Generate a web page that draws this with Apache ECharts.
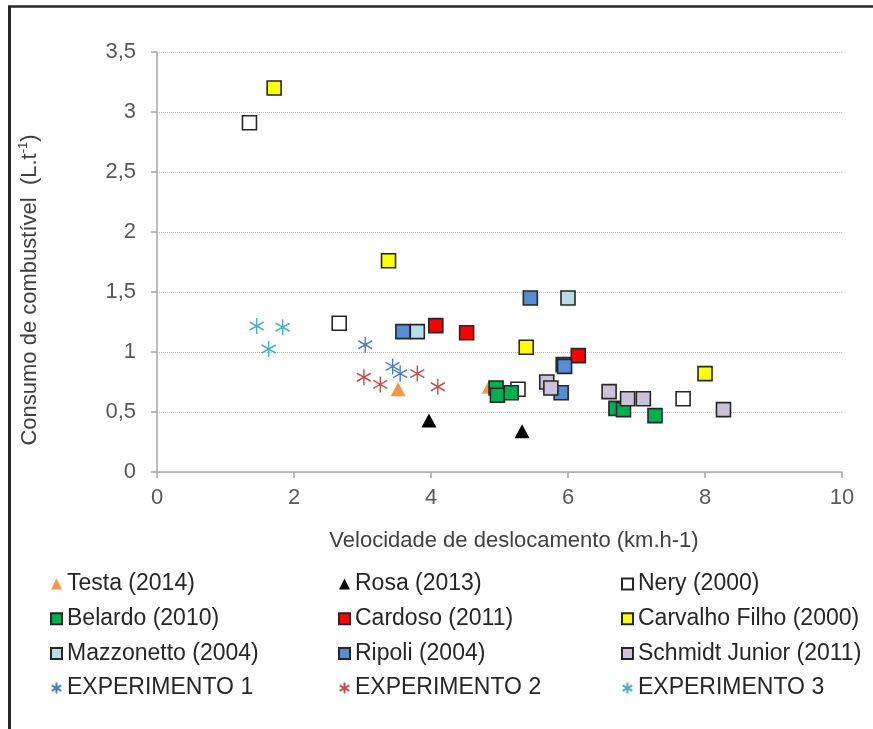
<!DOCTYPE html>
<html>
<head>
<meta charset="utf-8">
<script src="https://cdn.jsdelivr.net/npm/echarts@6/dist/echarts.min.js"></script>
<style>
html,body{margin:0;padding:0;background:#fff;}
#chart{width:873px;height:729px;}
</style>
</head>
<body>
<div id="chart"></div>
<script>
// ---- data ----
var seriesNames = ['Testa (2014)','Rosa (2013)','Nery (2000)','Belardo (2010)','Cardoso (2011)','Carvalho Filho (2000)','Mazzonetto (2004)','Ripoli (2004)','Schmidt Junior (2011)','EXPERIMENTO 1','EXPERIMENTO 2','EXPERIMENTO 3'];
var testaX = [3.52, 4.85];            var testaY = [0.69, 0.71];
var rosaX = [3.97, 5.33];             var rosaY = [0.43, 0.34];
var neryX = [1.35, 2.66, 5.27, 7.68]; var neryY = [2.91, 1.24, 0.69, 0.61];
var belardoX = [4.95, 4.97, 5.17, 6.70, 6.81, 7.27]; var belardoY = [0.70, 0.64, 0.66, 0.53, 0.52, 0.47];
var cardosoX = [4.07, 4.52, 6.15];    var cardosoY = [1.22, 1.16, 0.97];
var carvalhoX = [1.71, 3.38, 5.39, 8.00]; var carvalhoY = [3.20, 1.76, 1.04, 0.82];
var mazzX = [3.80, 6.00];             var mazzY = [1.17, 1.45];
var ripoliX = [3.59, 5.45, 5.93, 5.95, 5.90]; var ripoliY = [1.17, 1.45, 0.895, 0.88, 0.66];
var schmidtX = [5.69, 5.75, 6.60, 6.87, 7.10, 8.27]; var schmidtY = [0.75, 0.70, 0.67, 0.61, 0.61, 0.52];
var exp1X = [3.04, 3.44, 3.55];       var exp1Y = [1.06, 0.88, 0.82];
var exp2X = [3.02, 3.26, 3.80, 4.10]; var exp2Y = [0.79, 0.73, 0.82, 0.71];
var exp3X = [1.455, 1.835, 1.63];     var exp3Y = [1.217, 1.206, 1.025];
var xTicks = [0, 2, 4, 6, 8, 10];
var yTicks = [0, 0.5, 1, 1.5, 2, 2.5, 3, 3.5];

function pairs(xs, ys){ return xs.map(function(x,i){ return [x, ys[i]]; }); }

var FONT = '"Liberation Sans", Arial, sans-serif';
var STAR = 'path://M7,0L7,16M0,4L14,12M0,12L14,4';

function sq(name, xs, ys, fill){
  return {type:'scatter', name:name, data:pairs(xs,ys), symbol:'rect', symbolSize:14,
    itemStyle:{color:fill, borderColor:'#262626', borderWidth:1.6, opacity:1}};
}
function tri(name, xs, ys, fill){
  return {type:'scatter', name:name, data:pairs(xs,ys), symbol:'triangle', symbolSize:[15,14],
    itemStyle:{color:fill, opacity:1}};
}
function star(name, xs, ys, col){
  return {type:'scatter', name:name, data:pairs(xs,ys), symbol:STAR, symbolSize:[14,16],
    itemStyle:{color:'rgba(0,0,0,0)', borderColor:col, borderWidth:1.5, opacity:1}};
}

var series = [
  tri(seriesNames[0], testaX, testaY, '#F79646'),
  tri(seriesNames[1], rosaX, rosaY, '#000000'),
  sq(seriesNames[2], neryX, neryY, '#FFFFFF'),
  sq(seriesNames[3], belardoX, belardoY, '#00B050'),
  sq(seriesNames[4], cardosoX, cardosoY, '#FF0000'),
  sq(seriesNames[5], carvalhoX, carvalhoY, '#FFFF00'),
  sq(seriesNames[6], mazzX, mazzY, '#B7DEE8'),
  sq(seriesNames[7], ripoliX, ripoliY, '#558ED5'),
  sq(seriesNames[8], schmidtX, schmidtY, '#CCC1DA'),
  star(seriesNames[9], exp1X, exp1Y, '#4A7EBB'),
  star(seriesNames[10], exp2X, exp2Y, '#C0504D'),
  star(seriesNames[11], exp3X, exp3Y, '#4BACC6')
];
series.forEach(function(s){ s.emphasis = {disabled:true}; s.animation = false; });

function legendCol(left, names){
  return {show:true, orient:'vertical', left:left, top:567, padding:5, itemGap:10.7, itemWidth:11, itemHeight:11,
    selectedMode:false, data:names,
    textStyle:{fontFamily:FONT, fontSize:23, lineHeight:24, color:'#262626'}};
}

var chart = echarts.init(document.getElementById('chart'), null, {renderer:'canvas'});
chart.setOption({
  animation:false,
  backgroundColor:'#ffffff',
  grid:{left:157, right:31, top:52, bottom:257, containLabel:false},
  xAxis:{type:'value', min:xTicks[0], max:xTicks[xTicks.length-1], interval:2,
    axisLine:{show:true, lineStyle:{color:'#A6A6A6', width:1.5}},
    axisTick:{show:true, length:6, lineStyle:{color:'#A6A6A6', width:1.5}},
    axisLabel:{margin:15, fontFamily:FONT, fontSize:22, color:'#595959'},
    splitLine:{show:false}},
  yAxis:{type:'value', min:yTicks[0], max:yTicks[yTicks.length-1], interval:0.5,
    axisLine:{show:true, lineStyle:{color:'#A6A6A6', width:1.5}},
    axisTick:{show:true, length:6, lineStyle:{color:'#A6A6A6', width:1.5}},
    axisLabel:{margin:21, fontFamily:FONT, fontSize:22, color:'#595959',
      formatter:function(v){ return String(v).replace('.', ','); }},
    splitLine:{show:true, lineStyle:{color:'#BFBFBF', type:'dotted', width:1}}},
  legend:[
    legendCol(45, [seriesNames[0], seriesNames[3], seriesNames[6], seriesNames[9]]),
    legendCol(333, [seriesNames[1], seriesNames[4], seriesNames[7], seriesNames[10]]),
    legendCol(616, [seriesNames[2], seriesNames[5], seriesNames[8], seriesNames[11]])
  ],
  graphic:[
    {type:'line', shape:{x1:9.5, y1:6, x2:9.5, y2:740}, style:{stroke:'#262626', lineWidth:3}, silent:true},
    {type:'line', shape:{x1:8, y1:6.5, x2:880, y2:6.5}, style:{stroke:'#262626', lineWidth:2.5}, silent:true},
    {type:'text', x:514, y:541, silent:true,
      style:{text:'Velocidade de deslocamento (km.h-1)', font:'22px ' + FONT, fill:'#404040', align:'center', verticalAlign:'middle'}},
    {type:'text', x:30, y:290, rotation:Math.PI/2, silent:true,
      style:{text:'{a|Consumo de combustível  (L.t}{s|-1}{a|)}', align:'center', verticalAlign:'middle',
        rich:{a:{fontFamily:FONT, fontSize:22, fill:'#404040', color:'#404040', lineHeight:26},
              s:{fontFamily:FONT, fontSize:13, fill:'#404040', color:'#404040', verticalAlign:'top', lineHeight:26, padding:[0,0,10,0]}}}}
  ],
  series:series
});
</script>
</body>
</html>
